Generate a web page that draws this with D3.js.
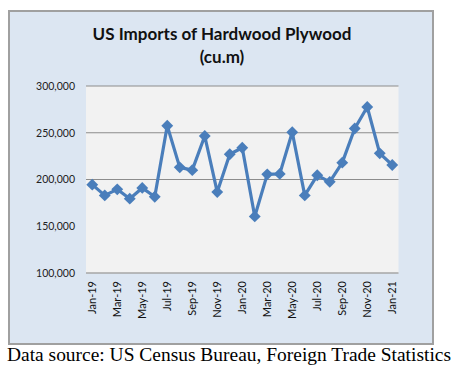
<!DOCTYPE html>
<html>
<head>
<meta charset="utf-8">
<script src="https://cdn.jsdelivr.net/npm/d3@7"></script>
<style>
  body { margin: 0; background: #fff; }
</style>
</head>
<body>
<script>
var months = ["Jan-19","Feb-19","Mar-19","Apr-19","May-19","Jun-19","Jul-19","Aug-19","Sep-19","Oct-19","Nov-19","Dec-19",
              "Jan-20","Feb-20","Mar-20","Apr-20","May-20","Jun-20","Jul-20","Aug-20","Sep-20","Oct-20","Nov-20","Dec-20","Jan-21"];
var imports = [194500, 183000, 189500, 179500, 191000, 181500, 257500, 213000, 210000, 246500, 186500, 227000,
               234000, 160500, 205500, 206000, 250500, 183000, 204500, 197500, 218000, 254500, 277500, 228000, 215500];
var yTicks = [100000, 150000, 200000, 250000, 300000];
var gridTicks = [200000, 250000, 300000];

var svg = d3.select("body").append("svg")
      .attr("width", 457)
      .attr("height", 374);

// chart frame
svg.append("rect")
    .attr("x", 9).attr("y", 11)
    .attr("width", 424).attr("height", 333)
    .attr("fill", "#dce6f2")
    .attr("stroke", "#a0a0a0")
    .attr("stroke-width", 2);

var titleFont = "Lato, 'Open Sans', sans-serif";
svg.append("text")
    .attr("x", 222).attr("y", 40)
    .attr("text-anchor", "middle")
    .attr("font-family", titleFont)
    .attr("font-weight", "bold")
    .attr("font-size", 17)
    .attr("fill", "#111")
    .text("US Imports of Hardwood Plywood");
svg.append("text")
    .attr("x", 222).attr("y", 63)
    .attr("text-anchor", "middle")
    .attr("font-family", titleFont)
    .attr("font-weight", "bold")
    .attr("font-size", 17)
    .attr("fill", "#111")
    .text("(cu.m)");

var margin = {left: 86, top: 86},
    width = 312.5,
    height = 187,
    g = svg.append("g").attr("transform", "translate(" + margin.left + "," + margin.top + ")");

var x = d3.scaleBand()
    .domain(months)
    .range([0, width]);

var y = d3.scaleLinear()
    .domain([100000, 300000])
    .range([height, 0]);

g.append("rect")
    .attr("width", width)
    .attr("height", height)
    .attr("fill", "#f2f2f2");

g.selectAll(".grid")
    .data(gridTicks)
  .enter().append("line")
    .attr("class", "grid")
    .attr("x1", 0).attr("x2", width)
    .attr("y1", function(d) { return y(d); })
    .attr("y2", function(d) { return y(d); })
    .attr("stroke", "#8c8c8c")
    .attr("stroke-width", 1);

g.append("line")
    .attr("x1", 0).attr("x2", width)
    .attr("y1", height).attr("y2", height)
    .attr("stroke", "#a6a6a6")
    .attr("stroke-width", 1.5);

var yAxis = g.append("g")
    .call(d3.axisLeft(y).tickValues(yTicks).tickSize(0).tickPadding(11).tickFormat(d3.format(",")));
yAxis.select(".domain").remove();
yAxis.selectAll("text")
    .attr("font-family", titleFont)
    .attr("font-size", 10.5)
    .attr("fill", "#222");

var xAxis = g.append("g")
    .attr("transform", "translate(0," + height + ")")
    .call(d3.axisBottom(x).tickValues(months.filter(function(d, i) { return i % 2 === 0; })).tickSize(0));
xAxis.select(".domain").remove();
xAxis.selectAll("text")
    .attr("font-family", titleFont)
    .attr("font-size", 11)
    .attr("fill", "#111")
    .attr("text-anchor", "end")
    .attr("transform", "rotate(-90)")
    .attr("x", -8)
    .attr("y", 0)
    .attr("dy", "0.35em");

var line = d3.line()
    .x(function(d, i) { return x(months[i]) + x.bandwidth() / 2; })
    .y(function(d) { return y(d); });

g.append("path")
    .datum(imports)
    .attr("fill", "none")
    .attr("stroke", "#4a7ebb")
    .attr("stroke-width", 3.2)
    .attr("stroke-linejoin", "round")
    .attr("d", line);

g.selectAll(".pt")
    .data(imports)
  .enter().append("path")
    .attr("class", "pt")
    .attr("transform", function(d, i) {
      return "translate(" + (x(months[i]) + x.bandwidth() / 2) + "," + y(d) + ")";
    })
    .attr("d", d3.symbol().type(d3.symbolDiamond2).size(90))
    .attr("fill", "#4a7ebb");

svg.append("text")
    .attr("x", 7).attr("y", 361)
    .attr("font-family", "'Liberation Serif', 'Times New Roman', serif")
    .attr("font-size", 18)
    .attr("textLength", 444)
    .attr("lengthAdjust", "spacingAndGlyphs")
    .attr("fill", "#000")
    .text("Data source: US Census Bureau, Foreign Trade Statistics");
</script>
</body>
</html>
